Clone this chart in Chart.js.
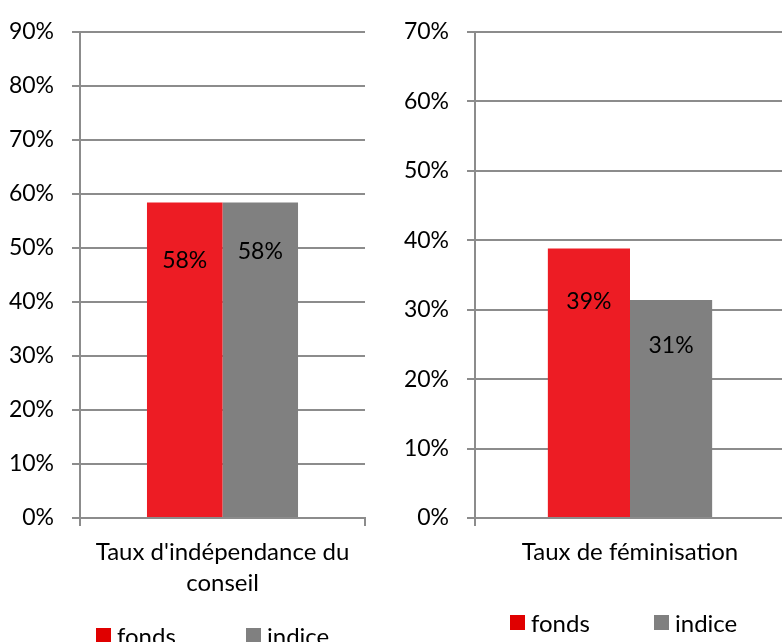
<!DOCTYPE html>
<html>
    <head>
        <title>Gouvernance</title>
        <meta charset="UTF-8">
        <style>
          body { margin: 0; width: 782px; height: 642px; overflow: hidden; background: #fff; position: relative; font-family: Lato, sans-serif; }
          .panel { position: absolute; top: 0; }
          .legend { position: absolute; display: flex; font-size: 24px; color: #000; }
          .legend .item { display: flex; align-items: center; height: 15px; line-height: 13px; }
          .legend .box { width: 15px; height: 15px; margin-right: 6px; }
        </style>
    </head>
    <body>
        <div class="panel" style="left:0px"><canvas id="chartIndependance" width="391" height="660"></canvas></div>
        <div class="panel" style="left:391px"><canvas id="chartFeminisation" width="400" height="660"></canvas></div>
        <div class="legend" id="legendIndependance" style="left:96px; top:628px"></div>
        <div class="legend" id="legendFeminisation" style="left:510px; top:615px"></div>

        <script src="https://cdn.jsdelivr.net/npm/chart.js/dist/chart.umd.min.js"></script>
        <script>
          //****************************** data ******************************//
          const seriesNames = ['fonds', 'indice'];
          const seriesColors = ['#ED1C24', '#808080'];
          const legendColors = ['#E00000', '#808080']; // legend swatches are a deeper red than the bars

          const independanceLabels = [["Taux d'indépendance du", 'conseil']];
          const independanceFonds = [0.584];
          const independanceIndice = [0.584];
          const independanceMax = 0.9;

          const feminisationLabels = ['Taux de féminisation'];
          const feminisationFonds = [0.388];
          const feminisationIndice = [0.314];
          const feminisationMax = 0.7;

          const tickStep = 0.1;

          //****************************** helpers ******************************//
          const axisGray = '#8c8c8c';
          const numberFont = { family: 'Lato', size: 23 };
          const pct = v => Math.round(v * 100) + '%';

          // draws the value of each bar inside it, a little below the top
          const valueLabels = {
            id: 'valueLabels',
            afterDatasetsDraw(chart, args, opts) {
              const ctx = chart.ctx;
              ctx.save();
              ctx.font = '23px Lato';
              ctx.fillStyle = '#000';
              ctx.textAlign = 'center';
              ctx.textBaseline = 'middle';
              chart.data.datasets.forEach((ds, i) => {
                chart.getDatasetMeta(i).data.forEach((bar, j) => {
                  ctx.fillText(pct(ds.data[j]), bar.x, bar.y + opts.offsets[i]);
                });
              });
              ctx.restore();
            }
          };

          function drawChart(canvasId, legendId, labels, fonds, indice, maxY, layout) {
            const chart = new Chart(document.getElementById(canvasId), {
              type: 'bar',
              data: {
                labels: labels,
                datasets: [
                  { label: seriesNames[0], data: fonds, backgroundColor: seriesColors[0] },
                  { label: seriesNames[1], data: indice, backgroundColor: seriesColors[1] }
                ]
              },
              options: {
                responsive: false,
                animation: false,
                categoryPercentage: 0.53,
                barPercentage: 1,
                layout: { padding: { left: 0, right: layout.right, top: layout.top, bottom: 0 } },
                plugins: {
                  legend: { display: false },
                  tooltip: { enabled: false },
                  valueLabels: { offsets: layout.labelOffsets }
                },
                scales: {
                  x: {
                    grid: { drawOnChartArea: false, drawTicks: true, tickLength: 8, color: axisGray, lineWidth: 2 },
                    border: { color: axisGray, width: 2 },
                    ticks: { color: '#000', font: { family: 'Lato', size: 24, lineHeight: 1.29 }, padding: 11, maxRotation: 0, autoSkip: false },
                    afterFit: s => { s.height = 660 - 518; }
                  },
                  y: {
                    min: 0,
                    max: maxY,
                    ticks: { stepSize: tickStep, callback: v => pct(v), color: '#000', font: numberFont, padding: 18 },
                    grid: { color: axisGray, lineWidth: 2, tickLength: 8 },
                    border: { color: axisGray, width: 2 },
                    afterFit: s => { s.width = layout.axisX; }
                  }
                }
              },
              plugins: [valueLabels]
            });

            // html legend built from the chart's own legend items
            const legend = document.getElementById(legendId);
            chart.options.plugins.legend.labels.generateLabels(chart).forEach((item, i) => {
              const el = document.createElement('div');
              el.className = 'item';
              el.style.width = layout.legendStep + 'px';
              el.innerHTML = '<span class="box" style="background:' + legendColors[i] + '"></span><span>' + item.text + '</span>';
              legend.appendChild(el);
            });
            return chart;
          }

          drawChart('chartIndependance', 'legendIndependance', independanceLabels, independanceFonds, independanceIndice, independanceMax,
            { axisX: 80, right: 26, top: 27, labelOffsets: [58, 49], legendStep: 150 });
          drawChart('chartFeminisation', 'legendFeminisation', feminisationLabels, feminisationFonds, feminisationIndice, feminisationMax,
            { axisX: 84, right: 6, top: 31, labelOffsets: [53, 46], legendStep: 144 });
        </script>
    </body>
</html>
